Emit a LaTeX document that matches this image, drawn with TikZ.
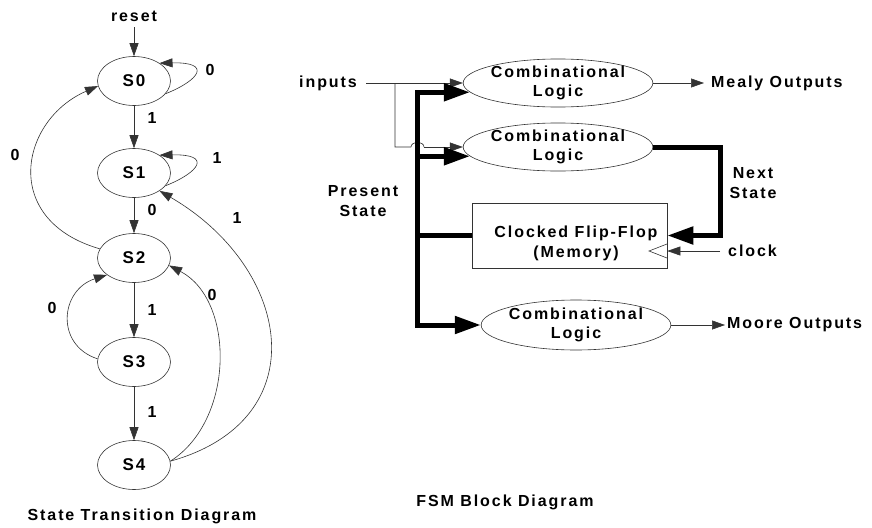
\documentclass[tikz,border=0pt]{standalone}
\usepackage{fontspec}
\setmainfont{Liberation Sans}[LetterSpace=12]
\usetikzlibrary{shapes.geometric,arrows.meta}
\begin{document}
\begin{tikzpicture}[x=1pt,y=-1pt,
  lbl/.style={font=\bfseries\fontsize{16}{20}\selectfont, inner sep=0, align=center},
  thin/.style={draw=black!80, line width=0.6pt},
  tarr/.style={thin, -{Triangle[length=13pt,width=9pt]}},
  st/.style={ellipse, draw=black!80, line width=0.6pt, minimum width=73pt, minimum height=49pt, inner sep=0, font=\bfseries\fontsize{17}{20}\selectfont},
  cl/.style={ellipse, draw=black!80, line width=0.6pt, minimum width=184pt, minimum height=45pt, inner sep=0, align=center, font=\bfseries\fontsize{16}{19}\selectfont},
  bus/.style={line width=5pt, draw=black},
  barr/.style={bus, -{Triangle[length=26pt,width=17pt]}},
  bbarr/.style={bus, {Triangle[length=26pt,width=17pt]}-{Triangle[length=26pt,width=17pt]}}
]
\useasboundingbox (0,0) rectangle (872,527);

% ---------- State transition diagram ----------
\node[lbl] (reset) at (134,16) {reset};
\node[st] (S0) at (134,81) {S0};
\node[st] (S1) at (134,173) {S1};
\node[st] (S2) at (134,258) {S2};
\node[st] (S3) at (134,362) {S3};
\node[st] (S4) at (134,465) {S4};

\draw[tarr, shorten <=6pt] (reset.south) -- (S0.north);
\draw[tarr] (S0) -- (S1);
\draw[tarr] (S1) -- (S2);
\draw[tarr] (S2) -- (S3);
\draw[tarr] (S3) -- (S4);

\node[lbl] (l01) at (152,118) {1};
\node[lbl] (l12) at (152,210) {0};
\node[lbl] (l23) at (152,310) {1};
\node[lbl] (l34) at (152,412) {1};

\draw[tarr] (S0.-22) .. controls (200,80) and (212,62) .. (S0.35);
\node[lbl] (l00) at (210,70) {0};
\draw[tarr] (S1.-22) .. controls (200,172) and (212,154) .. (S1.35);
\node[lbl] (l11) at (217,158) {1};

\draw[tarr] (S2.165) .. controls (0,220) and (20,120) .. (S0.188);
\node[lbl] (l20) at (15,155) {0};
\draw[tarr] (S3.175) .. controls (55,345) and (60,290) .. (S2.212);
\node[lbl] (l32) at (52,308) {0};
\draw[tarr] (S4.6) .. controls (235,420) and (235,300) .. (S2.-12);
\node[lbl] (l42) at (212,295) {0};
\draw[tarr] (S4.6) .. controls (318,420) and (292,268) .. (S1.-35);
\node[lbl] (l41) at (237,218) {1};

\node[lbl] (cap1) at (142,516) {State Transition Diagram};

% ---------- FSM block diagram ----------
\coordinate (bx) at (417,0);
\coordinate (jx) at (395,0);
\coordinate (nsx) at (720,0);

\node[lbl] (inputs) at (328,83) {inputs};
\node[cl] (E1) at (558,83) {Combinational\\Logic};
\node[cl] (E2) at (558,147) {Combinational\\Logic};
\node[cl, minimum height=50pt] (E3) at (576,325) {Combinational\\Logic};
\node[draw=black!80, line width=0.6pt, minimum width=195pt, minimum height=65pt, inner sep=0] (FF) at (569.5,235.5) {};
\node[lbl] (fftext) at (576,243) {Clocked Flip-Flop\\(Memory)};
\node[lbl] (ps) at (363,201) {Present\\State};
\node[lbl] (ns) at (753,183) {Next\\State};
\node[lbl, anchor=west] (clock) at (728,251) {clock};
\node[lbl, anchor=west] (mealy) at (711,83) {Mealy Outputs};
\node[lbl, anchor=west] (moore) at (727,325) {Moore Outputs};
\node[lbl] (cap2) at (505,502) {FSM Block Diagram};

% inputs
\draw[tarr, shorten <=9pt] (inputs.east) -- (E1.west);
\draw[thin] (inputs.east -| jx) -- (E2.west -| jx) -- (411,147)
  .. controls (411,141) and (424,141) .. (424,147);
\draw[tarr] (424,147) -- (E2.west);

% bus
\draw[bbarr] (E1.186) -- (E1.186 -| bx) -- (E3.west -| bx) -- (E3.west);
\draw[barr] (E2.186 -| bx) -- (E2.186);
\draw[bus] (FF.west) -- (FF.west -| bx);

% next state
\draw[barr] (E2.east) -- (E2.east -| nsx) -- (FF.east -| nsx) -- (FF.east);

% clock
\draw[tarr, shorten <=8pt] (clock.west) -- (clock.west -| FF.east);
\draw[thin] (667,244) -- (649,251) -- (667,258);

% outputs
\draw[tarr, shorten >=7pt] (E1.east) -- (mealy.west);
\draw[tarr, shorten >=2pt] (E3.east) -- (moore.west);
\end{tikzpicture}
\end{document}
